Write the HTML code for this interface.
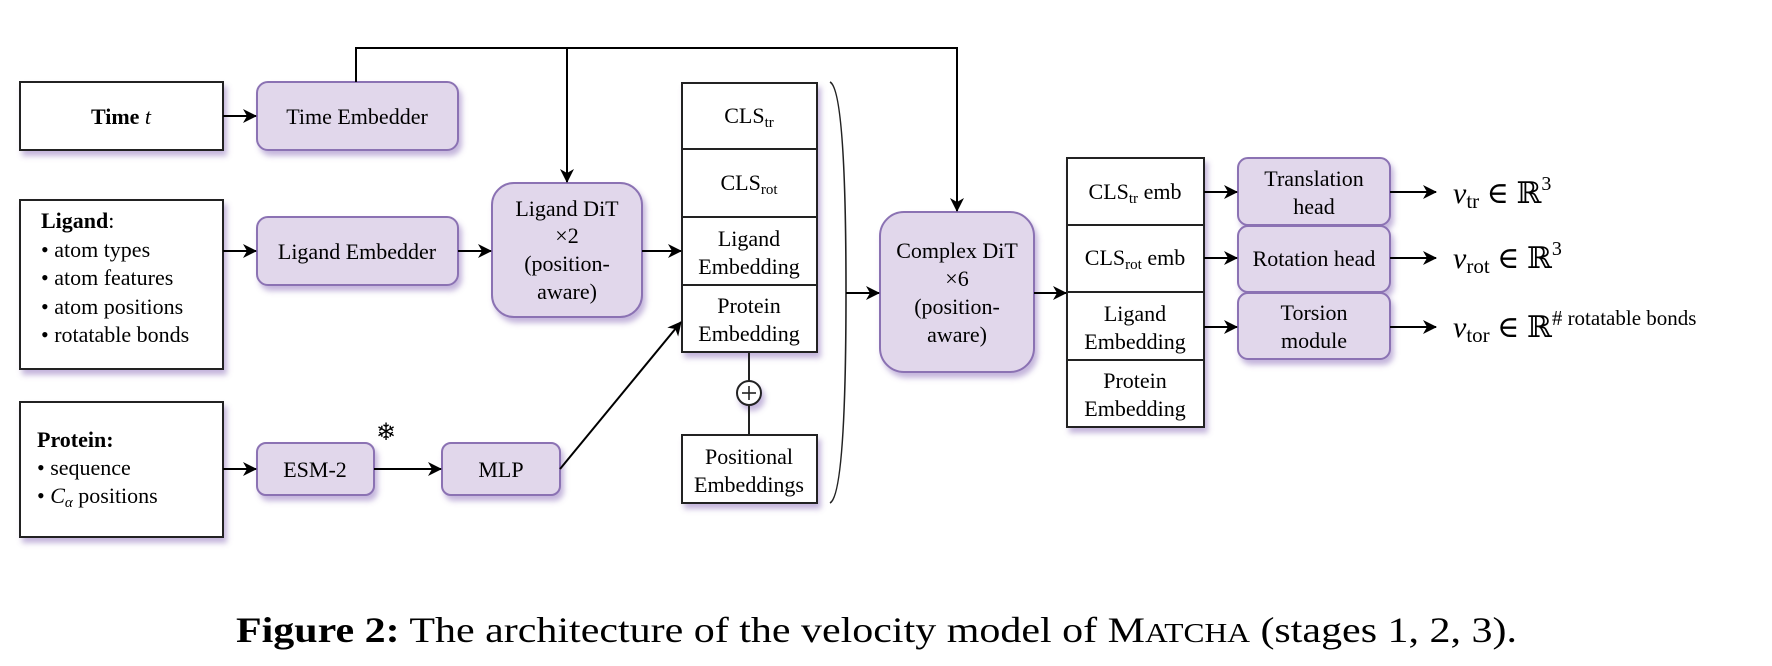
<!DOCTYPE html>
<html><head><meta charset="utf-8"><style>
html,body{margin:0;padding:0;background:#fff;}
svg{display:block;}
text{font-family:"Liberation Serif","DejaVu Serif",serif;fill:#000;}
</style></head><body>
<svg width="1772" height="666" viewBox="0 0 1772 666" xmlns="http://www.w3.org/2000/svg">
<defs>
<filter id="sh" x="-20%" y="-20%" width="150%" height="160%">
<feDropShadow dx="3" dy="5" stdDeviation="3" flood-color="#7a5cb0" flood-opacity="0.45"/>
</filter>
<marker id="ar" viewBox="0 0 14 14" refX="13" refY="7" markerWidth="14" markerHeight="14" markerUnits="userSpaceOnUse" orient="auto">
<path d="M0,0 L14,7 L0,14 L4,7 Z" fill="#000"/>
</marker>
</defs>

<g stroke="#222" stroke-width="2" fill="#fff" filter="url(#sh)">
<rect x="20" y="82" width="203" height="68"/>
<rect x="20" y="200" width="203" height="169"/>
<rect x="20" y="402" width="203" height="135"/>
<rect x="682" y="83" width="135" height="269"/>
<rect x="682" y="435" width="135" height="68"/>
<rect x="1067" y="158" width="137" height="269"/>
<circle cx="749" cy="393" r="12"/>
</g>
<g stroke="#8b72b3" stroke-width="2" fill="#e1d7eb" filter="url(#sh)">
<rect x="257" y="82" width="201" height="68" rx="11"/>
<rect x="257" y="217" width="201" height="68" rx="11"/>
<rect x="492" y="183" width="150" height="134" rx="22"/>
<rect x="257" y="443" width="117" height="52" rx="9"/>
<rect x="442" y="443" width="118" height="52" rx="9"/>
<rect x="880" y="212" width="154" height="160" rx="24"/>
<rect x="1238" y="158" width="152" height="67" rx="10"/>
<rect x="1238" y="226" width="152" height="66" rx="10"/>
<rect x="1238" y="293" width="152" height="66" rx="10"/>
</g>
<g stroke="#222" stroke-width="2" fill="none">
<line x1="682" y1="149" x2="817" y2="149"/>
<line x1="682" y1="217" x2="817" y2="217"/>
<line x1="682" y1="285" x2="817" y2="285"/>
<line x1="1067" y1="225" x2="1204" y2="225"/>
<line x1="1067" y1="292" x2="1204" y2="292"/>
<line x1="1067" y1="360" x2="1204" y2="360"/>
<line x1="749" y1="352" x2="749" y2="381"/>
<line x1="749" y1="405" x2="749" y2="435"/>
<line x1="742" y1="393" x2="756" y2="393" stroke-width="1.6"/>
<line x1="749" y1="386" x2="749" y2="400" stroke-width="1.6"/>
<path d="M830,82 Q846,90 846,292 Q846,495 830,503" stroke-width="1.6"/>
</g>
<g stroke="#000" stroke-width="2" fill="none" marker-end="url(#ar)">
<line x1="223" y1="116" x2="256" y2="116"/>
<line x1="223" y1="251" x2="256" y2="251"/>
<line x1="458" y1="251" x2="491" y2="251"/>
<line x1="642" y1="251" x2="681" y2="251"/>
<line x1="223" y1="469" x2="256" y2="469"/>
<line x1="374" y1="469" x2="441" y2="469"/>
<line x1="560" y1="469" x2="681" y2="322"/>
<polyline points="356,82 356,48 957,48 957,211"/>
<line x1="567" y1="48" x2="567" y2="182"/>
<line x1="846" y1="293" x2="879" y2="293"/>
<line x1="1034" y1="293" x2="1066" y2="293"/>
<line x1="1204" y1="192" x2="1237" y2="192"/>
<line x1="1204" y1="258" x2="1237" y2="258"/>
<line x1="1204" y1="327" x2="1237" y2="327"/>
<line x1="1390" y1="192" x2="1436" y2="192"/>
<line x1="1390" y1="258" x2="1436" y2="258"/>
<line x1="1390" y1="327" x2="1436" y2="327"/>
</g>

<g font-size="22" font-family="Liberation Serif, serif">
<text x="121" y="124" text-anchor="middle"><tspan font-weight="bold">Time</tspan> <tspan font-style="italic">t</tspan></text>
<text x="357" y="124" text-anchor="middle">Time Embedder</text>
<text x="41" y="228"><tspan font-weight="bold">Ligand</tspan>:</text>
<text x="41" y="257">• atom types</text>
<text x="41" y="285">• atom features</text>
<text x="41" y="314">• atom positions</text>
<text x="41" y="342">• rotatable bonds</text>
<text x="357" y="259" text-anchor="middle">Ligand Embedder</text>
<text x="567" y="216" text-anchor="middle">Ligand DiT</text>
<text x="567" y="243" text-anchor="middle">×2</text>
<text x="567" y="271" text-anchor="middle">(position-</text>
<text x="567" y="299" text-anchor="middle">aware)</text>
<text x="37" y="447" font-weight="bold">Protein:</text>
<text x="37" y="475">• sequence</text>
<text x="37" y="503">• <tspan font-style="italic">C</tspan><tspan font-style="italic" font-size="15" dy="4">α</tspan><tspan dy="-4"> positions</tspan></text>
<text x="315" y="477" text-anchor="middle">ESM-2</text>
<text x="501" y="477" text-anchor="middle">MLP</text>
<text x="386" y="440" text-anchor="middle" font-size="24" font-family="DejaVu Sans">❄</text>
<text x="749" y="123" text-anchor="middle">CLS<tspan font-size="15" dy="4">tr</tspan></text>
<text x="749" y="190" text-anchor="middle">CLS<tspan font-size="15" dy="4">rot</tspan></text>
<text x="749" y="246" text-anchor="middle">Ligand</text>
<text x="749" y="274" text-anchor="middle">Embedding</text>
<text x="749" y="313" text-anchor="middle">Protein</text>
<text x="749" y="341" text-anchor="middle">Embedding</text>
<text x="749" y="464" text-anchor="middle">Positional</text>
<text x="749" y="492" text-anchor="middle">Embeddings</text>
<text x="957" y="258" text-anchor="middle">Complex DiT</text>
<text x="957" y="286" text-anchor="middle">×6</text>
<text x="957" y="314" text-anchor="middle">(position-</text>
<text x="957" y="342" text-anchor="middle">aware)</text>
<text x="1135" y="199" text-anchor="middle">CLS<tspan font-size="15" dy="4">tr</tspan><tspan dy="-4"> emb</tspan></text>
<text x="1135" y="265" text-anchor="middle">CLS<tspan font-size="15" dy="4">rot</tspan><tspan dy="-4"> emb</tspan></text>
<text x="1135" y="321" text-anchor="middle">Ligand</text>
<text x="1135" y="349" text-anchor="middle">Embedding</text>
<text x="1135" y="388" text-anchor="middle">Protein</text>
<text x="1135" y="416" text-anchor="middle">Embedding</text>
<text x="1314" y="186" text-anchor="middle">Translation</text>
<text x="1314" y="214" text-anchor="middle">head</text>
<text x="1314" y="266" text-anchor="middle">Rotation head</text>
<text x="1314" y="320" text-anchor="middle">Torsion</text>
<text x="1314" y="348" text-anchor="middle">module</text>
</g>
<g font-size="30" font-family="Liberation Serif, serif">
<text x="1453" y="203"><tspan font-style="italic">v</tspan><tspan font-size="21" dy="5">tr</tspan><tspan dy="-5"> ∈ </tspan><tspan font-family="DejaVu Serif">ℝ</tspan><tspan font-size="20" dy="-13">3</tspan></text>
<text x="1453" y="268"><tspan font-style="italic">v</tspan><tspan font-size="21" dy="5">rot</tspan><tspan dy="-5"> ∈ </tspan><tspan font-family="DejaVu Serif">ℝ</tspan><tspan font-size="20" dy="-13">3</tspan></text>
<text x="1453" y="337"><tspan font-style="italic">v</tspan><tspan font-size="21" dy="5">tor</tspan><tspan dy="-5"> ∈ </tspan><tspan font-family="DejaVu Serif">ℝ</tspan><tspan font-size="21" dy="-12"># rotatable bonds</tspan></text>
</g>
<text x="236" y="642" font-size="36" font-family="Liberation Serif, serif" textLength="1281" lengthAdjust="spacingAndGlyphs"><tspan font-weight="bold">Figure 2:</tspan> The architecture of the velocity model of M<tspan font-size="27">ATCHA</tspan> (stages 1, 2, 3).</text>
</svg>
</body></html>
